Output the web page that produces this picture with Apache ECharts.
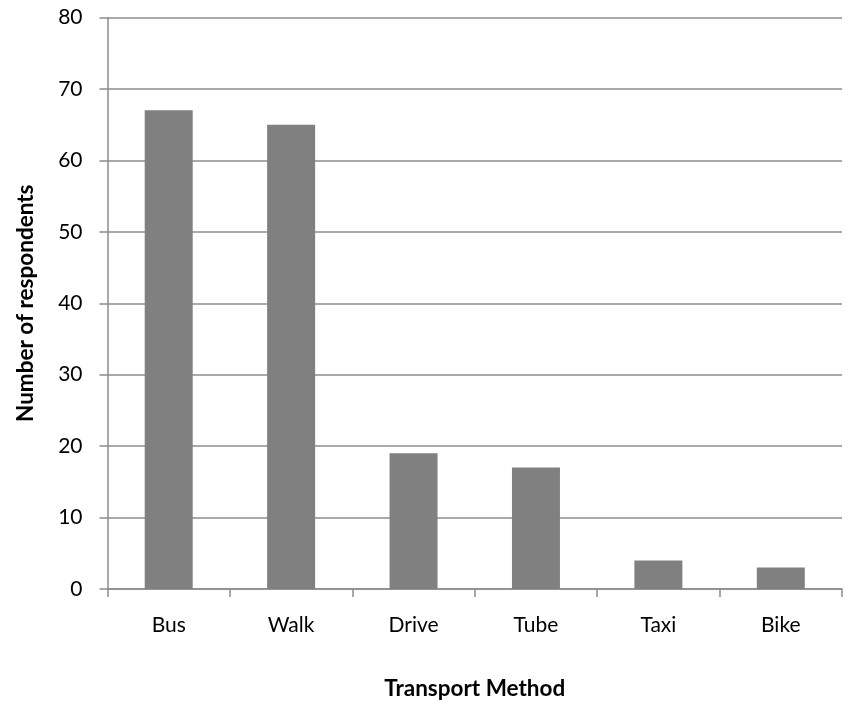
<!DOCTYPE html>
<html>
<head>
<meta charset="utf-8">
<script src="https://cdn.jsdelivr.net/npm/echarts@6/dist/echarts.min.js"></script>
<style>
  html, body { margin: 0; padding: 0; background: #fff; }
  #chart { width: 851px; height: 705px; }
</style>
</head>
<body>
<div id="chart"></div>
<script>
// Survey: how respondents travel
const categories = ['Bus', 'Walk', 'Drive', 'Tube', 'Taxi', 'Bike'];
const respondents = [67, 65, 19, 17, 4, 3];
const yTicks = { min: 0, max: 80, interval: 10 };

const FONT = 'Lato';
const LINE = '#8c8c8c';

const chart = echarts.init(document.getElementById('chart'), null, { renderer: 'canvas' });
chart.setOption({
  animation: false,
  backgroundColor: '#ffffff',
  grid: { left: 107.5, right: 9, top: 17.5, bottom: 111, containLabel: false },
  xAxis: {
    type: 'category',
    data: categories,
    name: 'Transport Method',
    nameLocation: 'middle',
    nameGap: 88,
    nameTextStyle: { fontFamily: FONT, fontSize: 22.5, fontWeight: 'bold', color: '#000', verticalAlign: 'top' },
    axisLine: { show: true, lineStyle: { color: LINE, width: 1.5 } },
    axisTick: { show: true, length: 8, alignWithLabel: false, lineStyle: { color: LINE, width: 1.5 } },
    axisLabel: { fontFamily: FONT, fontSize: 21, color: '#000', margin: 26 },
    splitLine: { show: false }
  },
  yAxis: {
    type: 'value',
    min: yTicks.min,
    max: yTicks.max,
    interval: yTicks.interval,
    name: 'Number of respondents',
    nameLocation: 'middle',
    nameGap: 70,
    nameRotate: 90,
    nameTextStyle: { fontFamily: FONT, fontSize: 22.5, fontWeight: 'bold', color: '#000' },
    axisLine: { show: true, lineStyle: { color: LINE, width: 1.5 } },
    axisTick: { show: true, length: 8, lineStyle: { color: LINE, width: 1.5 } },
    axisLabel: { fontFamily: FONT, fontSize: 21, color: '#000', margin: 25 },
    splitLine: { show: true, lineStyle: { color: LINE, width: 1.5 } }
  },
  series: [{
    type: 'bar',
    data: respondents,
    barWidth: 48,
    itemStyle: { color: '#808080' }
  }]
});
</script>
</body>
</html>
